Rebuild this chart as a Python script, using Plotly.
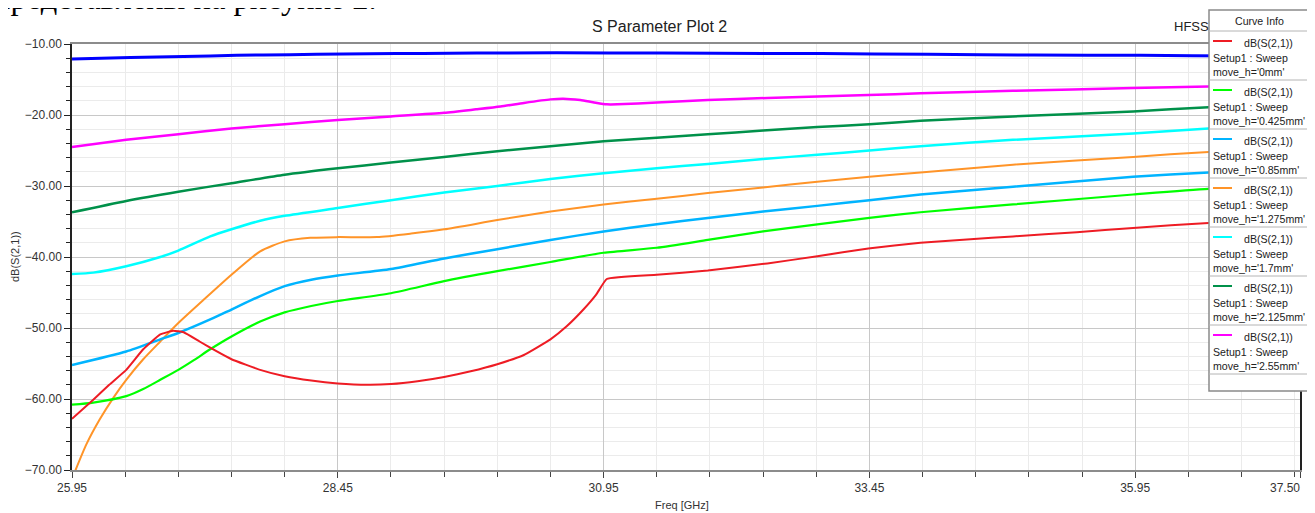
import plotly.graph_objects as go

# ---------------- data ----------------
f_red = [25.95, 26.15, 26.3, 26.46, 26.62, 26.78, 26.9, 27.0, 27.15, 27.3, 27.45, 27.72, 27.95, 28.2,
         28.45, 28.73, 28.95, 29.2, 29.45, 29.7, 29.95, 30.2, 30.45, 30.6, 30.76, 30.88, 30.98, 31.45,
         31.93, 32.49, 32.96, 33.44, 33.93, 34.4, 34.8, 35.4, 35.93, 36.64, 37.5]
v_red = [-62.8, -60.1, -58.0, -55.9, -53.0, -50.9, -50.4, -50.6, -51.9, -53.2, -54.4, -55.9, -56.8, -57.4,
         -57.8, -58.0, -57.9, -57.5, -56.9, -56.1, -55.1, -53.8, -51.6, -49.8, -47.4, -45.3, -43.1, -42.5,
         -41.9, -40.9, -39.9, -38.8, -38.0, -37.5, -37.1, -36.5, -35.9, -35.2, -34.9]

f_grn = [25.95, 26.15, 26.46, 26.62, 26.78, 26.95, 27.1, 27.25, 27.45, 27.72, 27.95, 28.2, 28.45, 28.95,
         29.45, 29.95, 30.45, 30.95, 31.45, 31.93, 32.45, 32.96, 33.45, 33.93, 34.8, 35.93, 36.64, 37.5]
v_grn = [-60.8, -60.5, -59.6, -58.6, -57.3, -55.9, -54.5, -53.0, -51.2, -49.1, -47.8, -46.9, -46.2, -45.1,
         -43.4, -42.0, -40.7, -39.4, -38.7, -37.6, -36.4, -35.4, -34.5, -33.7, -32.6, -31.2, -30.4, -30.0]

f_lbl = [25.95, 26.46, 26.78, 26.95, 27.25, 27.45, 27.72, 27.95, 28.2, 28.45, 28.95, 29.45, 29.95, 30.45,
         30.95, 31.45, 31.93, 32.45, 32.96, 33.45, 33.93, 34.8, 35.93, 36.64, 37.5]
v_lbl = [-55.2, -53.3, -51.6, -50.7, -48.8, -47.4, -45.5, -44.1, -43.2, -42.6, -41.7, -40.2, -38.9, -37.6,
         -36.4, -35.4, -34.5, -33.6, -32.8, -32.0, -31.2, -30.1, -28.7, -28.1, -27.6]

f_org = [25.97, 26.085, 26.21, 26.34, 26.46, 26.62, 26.78, 26.95, 27.19, 27.45, 27.72, 27.95, 28.19, 28.45,
         28.82, 29.14, 29.45, 29.95, 30.45, 30.95, 31.45, 31.93, 32.45, 32.96, 33.45, 33.93, 34.8, 35.93,
         36.64, 37.5]
v_org = [-70.5, -66.4, -62.9, -59.8, -57.3, -54.4, -51.9, -49.3, -46.0, -42.5, -39.2, -37.8, -37.3, -37.2,
         -37.2, -36.7, -36.1, -34.8, -33.6, -32.6, -31.8, -31.0, -30.2, -29.4, -28.7, -28.1, -27.0, -25.9,
         -25.2, -24.7]

f_cyn = [25.95, 26.15, 26.46, 26.78, 26.95, 27.25, 27.45, 27.72, 27.95, 28.45, 28.95, 29.45, 29.95, 30.45,
         30.95, 31.45, 31.93, 32.45, 32.96, 33.45, 33.93, 34.8, 35.93, 36.64, 37.5]
v_cyn = [-42.4, -42.2, -41.3, -40.0, -39.1, -37.1, -36.1, -34.9, -34.2, -33.1, -32.0, -30.9, -30.0, -29.0,
         -28.2, -27.5, -26.9, -26.2, -25.6, -25.0, -24.4, -23.5, -22.6, -21.9, -21.3]

f_dgr = [25.95, 26.46, 26.95, 27.45, 27.95, 28.45, 28.95, 29.45, 29.95, 30.45, 30.95, 31.45, 31.93, 32.45,
         32.96, 33.45, 33.93, 34.8, 35.93, 36.64, 37.5]
v_dgr = [-33.7, -32.1, -30.8, -29.6, -28.4, -27.5, -26.7, -25.9, -25.1, -24.4, -23.7, -23.2, -22.7, -22.2,
         -21.7, -21.3, -20.8, -20.2, -19.5, -18.9, -18.5]

f_mag = [25.95, 26.46, 26.95, 27.45, 27.95, 28.45, 28.95, 29.45, 29.75, 29.98, 30.2, 30.45, 30.57, 30.73,
         30.85, 30.98, 31.08, 31.45, 31.93, 32.49, 32.96, 33.44, 33.93, 34.8, 35.93, 36.64, 37.5]
v_mag = [-24.5, -23.5, -22.7, -21.9, -21.3, -20.7, -20.2, -19.7, -19.2, -18.8, -18.3, -17.8, -17.7, -17.9,
         -18.2, -18.5, -18.5, -18.25, -17.9, -17.6, -17.4, -17.2, -16.95, -16.6, -16.2, -16.0, -15.8]

f_blu = [25.95, 26.5, 27.0, 27.5, 28.0, 28.5, 29.0, 29.5, 30.0, 31.0, 32.0, 33.0, 34.0, 35.0, 36.0, 37.0, 37.5]
v_blu = [-12.1, -11.9, -11.75, -11.6, -11.5, -11.4, -11.35, -11.3, -11.25, -11.25, -11.3, -11.35, -11.45,
         -11.55, -11.6, -11.7, -11.7]

legend_labels = ["0mm", "0.425mm", "0.85mm", "1.275mm", "1.7mm", "2.125mm", "2.55mm"]
x_ticks = [25.95, 28.45, 30.95, 33.45, 35.95, 37.50]

series = [
    (f_blu, v_blu, "#0000FF", 3.0, None, 0.6),
    (f_mag, v_mag, "#FF00FF", 2.5, "2.55mm", 0.6),
    (f_dgr, v_dgr, "#00914A", 2.5, "2.125mm", 0.6),
    (f_cyn, v_cyn, "#00FFFF", 2.5, "1.7mm", 0.6),
    (f_org, v_org, "#FF9428", 2.0, "1.275mm", 0.6),
    (f_lbl, v_lbl, "#00B4FF", 2.5, "0.85mm", 0.6),
    (f_grn, v_grn, "#00FF00", 2.2, "0.425mm", 0.6),
    (f_red, v_red, "#EE1C24", 2.0, "0mm", 0.35),
]
legend_colors = {"0mm": "#EE1C24", "0.425mm": "#00FF00", "0.85mm": "#00B4FF", "1.275mm": "#FF9428",
                 "1.7mm": "#00FFFF", "2.125mm": "#00914A", "2.55mm": "#FF00FF"}

# ---------------- figure ----------------
# the page body has an 8px margin, so the figure is 8px smaller and all
# positions below are given in page pixels
OFF = 8
W, H = 1315 - OFF, 513 - OFF
PL, PR, PT, PB = 72, 1300, 44, 470          # plot area in page pixels
L, R, T, B = PL - OFF, 1315 - PR, PT - OFF, 513 - PB
PW, PH = PR - PL, PB - PT
X0, X1 = 25.95, 37.5
EPS = 1e-6


def px(x):
    return (x - PL) / PW


def py(y):
    return (PB - y) / PH


fig = go.Figure()
for f, v, c, w, name, sm in series:
    fig.add_trace(go.Scatter(x=f, y=v, mode="lines", line=dict(color=c, width=w, shape="spline", smoothing=sm),
                             name=name or "", showlegend=False, hoverinfo="x+y"))

FONT = "Arial, Liberation Sans, sans-serif"
# the last x label is right-aligned to the axis end (as in the reference), so it is drawn separately
x_ticktext = [f"{t:.2f}" for t in x_ticks[:-1]] + [""]
fig.update_layout(
    width=W, height=H, margin=dict(l=L, r=R, t=T, b=B, autoexpand=False),
    paper_bgcolor="white", plot_bgcolor="white", showlegend=False,
    font=dict(family=FONT, size=12, color="#333333"),
    xaxis=dict(range=[X0 - EPS, X1 + EPS], tickvals=x_ticks, ticktext=x_ticktext,
               ticklabeloverflow="allow", automargin=False,
               ticks="outside", ticklen=6, tickcolor="#444444", tickwidth=1,
               showgrid=True, gridcolor="#C8C8C8", gridwidth=1, zeroline=False,
               showline=True, linecolor="#8C8C8C", linewidth=2, mirror=True,
               tickfont=dict(family=FONT, size=12, color="#333333"),
               minor=dict(tick0=25.95, dtick=0.5, ticks="outside", ticklen=5, tickcolor="#444444",
                          showgrid=True, gridcolor="#EBEBEB", gridwidth=1)),
    yaxis=dict(range=[-70 - EPS, -10 + EPS], tick0=-10, dtick=10, tickformat=".2f",
               ticklabeloverflow="allow", automargin=False,
               ticks="outside", ticklen=6, tickcolor="#222222",
               showgrid=True, gridcolor="#C8C8C8", gridwidth=1, zeroline=False,
               showline=True, linecolor="#222222", linewidth=1.5, mirror=True,
               tickfont=dict(family=FONT, size=12, color="#333333"),
               minor=dict(dtick=2, ticks="outside", ticklen=4, tickcolor="#222222",
                          showgrid=True, gridcolor="#EBEBEB", gridwidth=1)),
)

ann = []
shapes = []
ann.append(dict(text=f"{x_ticks[-1]:.2f}", x=X1, y=py(488.5), xref="x", yref="paper",
                xanchor="right", yanchor="middle", showarrow=False, xshift=2,
                font=dict(family=FONT, size=12, color="#333333")))
# page text above the chart (cut by the page edge)
ann.append(dict(text="представлены на рисунке 2.", x=px(379), y=py(-1.5), xref="paper", yref="paper",
                xanchor="right", yanchor="middle", showarrow=False,
                font=dict(family="Liberation Serif, Times New Roman, serif", size=32.5, color="#000000")))
# title and HFSS tag
ann.append(dict(text="S Parameter Plot 2", x=px(659), y=py(27), xref="paper", yref="paper",
                xanchor="center", yanchor="middle", showarrow=False,
                font=dict(family=FONT, size=16, color="#222222")))
ann.append(dict(text="HFSS", x=px(1191), y=py(27), xref="paper", yref="paper",
                xanchor="center", yanchor="middle", showarrow=False,
                font=dict(family=FONT, size=13, color="#222222")))
# axis titles
ann.append(dict(text="Freq [GHz]", x=px(682), y=py(505), xref="paper", yref="paper",
                xanchor="center", yanchor="middle", showarrow=False,
                font=dict(family=FONT, size=11, color="#333333")))
ann.append(dict(text="dB(S(2,1))", x=px(15), y=py(257), xref="paper", yref="paper",
                xanchor="center", yanchor="middle", showarrow=False, textangle=-90,
                font=dict(family=FONT, size=11, color="#333333")))

# legend box ("Curve Info")
bx0, bx1, by0, by1 = 1209, 1310, 10, 391
LF = 10.6
shapes.append(dict(type="rect", xref="paper", yref="paper", x0=px(bx0), x1=px(bx1), y0=py(by1), y1=py(by0),
                   fillcolor="white", line=dict(color="#8A8A8A", width=1.5), layer="above"))
shapes.append(dict(type="rect", xref="paper", yref="paper", x0=px(1311), x1=px(1316), y0=py(by1), y1=py(by0),
                   fillcolor="#D3E2F2", line=dict(width=0), layer="above"))
ann.append(dict(text="Curve Info", x=px(1259), y=py(21), xref="paper", yref="paper",
                xanchor="center", yanchor="middle", showarrow=False,
                font=dict(family=FONT, size=LF, color="#222222")))
shapes.append(dict(type="line", xref="paper", yref="paper", x0=px(bx0), x1=px(bx1), y0=py(31), y1=py(31),
                   line=dict(color="#B4B4B4", width=1), layer="above"))
for i, lab in enumerate(legend_labels):
    top = 31 + 49 * i
    shapes.append(dict(type="line", xref="paper", yref="paper", x0=px(1213), x1=px(1232),
                       y0=py(top + 10), y1=py(top + 10),
                       line=dict(color=legend_colors[lab], width=2), layer="above"))
    ann.append(dict(text="dB(S(2,1))", x=px(1268), y=py(top + 12), xref="paper", yref="paper",
                    xanchor="center", yanchor="middle", showarrow=False,
                    font=dict(family=FONT, size=LF, color="#222222")))
    ann.append(dict(text="Setup1 : Sweep", x=px(1211), y=py(top + 27), xref="paper", yref="paper",
                    xanchor="left", yanchor="middle", showarrow=False,
                    font=dict(family=FONT, size=LF, color="#222222")))
    ann.append(dict(text=f"move_h='{lab}'", x=px(1211), y=py(top + 41), xref="paper", yref="paper",
                    xanchor="left", yanchor="middle", showarrow=False,
                    font=dict(family=FONT, size=LF, color="#222222")))
    shapes.append(dict(type="line", xref="paper", yref="paper", x0=px(bx0), x1=px(bx1),
                       y0=py(top + 49), y1=py(top + 49),
                       line=dict(color="#B4B4B4", width=1), layer="above"))

fig.update_layout(annotations=ann, shapes=shapes)
fig.write_html("out.html")
